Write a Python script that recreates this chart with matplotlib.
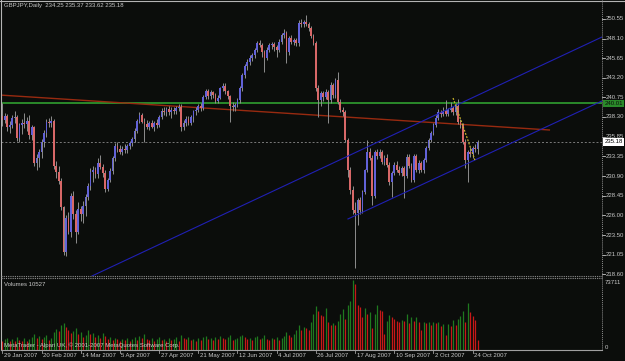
import matplotlib
matplotlib.use('Agg')
import matplotlib.pyplot as plt
from matplotlib.lines import Line2D
from matplotlib.transforms import blended_transform_factory

plt.rcParams['font.family'] = ['Liberation Sans', 'DejaVu Sans']

title_text = "GBPJPY,Daily  234.25 235.37 233.62 235.18"
volume_title = "Volumes 10527"
credit_text = "MetaTrader - Alpari UK, \u00a9 2001-2007 MetaQuotes Software Corp."

opens = [238.4, 237.9, 238.4, 237.0, 237.3, 238.2, 238.3, 235.7, 237.3, 237.6,
         237.4, 237.8, 236.0, 237.0, 232.5, 233.2, 233.9, 235.1, 236.3, 237.7,
         237.5, 237.8, 232.2, 231.4, 230.3, 227.0, 221.4, 225.6, 223.9, 228.4,
         226.2, 223.9, 226.8, 226.2, 227.2, 228.3, 229.7, 231.4, 231.7, 231.2,
         232.5, 232.0, 231.3, 229.3, 230.4, 231.5, 233.1, 234.7, 234.3, 233.9,
         234.3, 234.1, 234.7, 235.0, 235.5, 236.6, 237.8, 238.5, 237.7, 237.4,
         237.0, 237.5, 237.1, 237.6, 237.3, 238.3, 239.1, 238.9, 239.3, 238.9,
         239.2, 239.0, 239.4, 239.5, 237.0, 237.6, 238.1, 237.6, 238.3, 239.0,
         239.2, 239.7, 239.4, 240.8, 241.5, 240.9, 241.4, 241.0, 240.3, 240.7,
         241.9, 242.2, 241.5, 240.9, 239.7, 239.5, 239.8, 240.4, 241.9, 243.5,
         244.7, 245.2, 245.7, 246.0, 246.7, 247.5, 247.3, 246.4, 245.7, 246.7,
         247.3, 247.4, 247.0, 246.7, 247.7, 248.5, 248.8, 246.4, 248.2, 247.7,
         247.9, 247.5, 250.1, 249.9, 250.2, 249.9, 249.4, 248.4, 247.5, 241.9,
         240.4, 241.3, 240.8, 241.4, 240.4, 242.3, 241.0, 242.9, 240.2, 239.2,
         238.9, 235.4, 231.7, 229.2, 226.7, 226.3, 227.9, 226.7, 228.9, 231.7,
         233.9, 233.2, 228.4, 233.9, 233.4, 233.9, 232.7, 233.2, 232.3, 230.1,
         231.3, 232.3, 231.7, 231.3, 231.9, 230.9, 233.3, 232.2, 230.4, 233.4,
         231.7, 232.5, 231.7, 232.9, 234.4, 235.4, 236.3, 237.3, 238.2, 238.9,
         238.7, 239.0, 238.7, 239.2, 239.4, 238.9, 239.7, 237.7, 237.3, 235.2,
         232.9, 233.9, 233.6, 234.4, 234.25]
highs = [240.0, 238.8, 238.7, 237.8, 238.6, 239.0, 238.5, 237.6, 238.0, 238.8,
         238.3, 238.6, 237.3, 237.2, 233.6, 234.3, 235.6, 236.7, 238.0, 238.2,
         238.4, 238.0, 232.8, 232.1, 230.6, 227.2, 226.0, 226.4, 228.8, 229.0,
         226.6, 227.6, 227.2, 227.8, 228.7, 230.0, 231.9, 232.1, 232.0, 233.1,
         233.5, 232.4, 231.6, 230.6, 231.9, 233.4, 235.0, 235.1, 234.8, 234.6,
         234.9, 234.9, 235.3, 235.8, 236.9, 238.1, 238.9, 238.8, 238.2, 237.9,
         237.8, 237.9, 237.8, 238.1, 238.5, 239.4, 239.6, 239.6, 239.7, 239.5,
         239.6, 239.7, 239.9, 239.9, 237.9, 238.4, 238.4, 238.5, 239.2, 239.5,
         239.9, 240.0, 241.0, 241.8, 241.8, 241.7, 241.6, 241.3, 241.0, 242.1,
         242.6, 242.5, 241.7, 241.1, 240.2, 240.1, 240.7, 242.2, 243.8, 244.9,
         245.5, 246.0, 246.3, 246.9, 247.8, 247.9, 247.6, 246.7, 247.0, 247.6,
         247.7, 247.7, 247.3, 248.0, 248.8, 249.3, 249.0, 248.4, 248.5, 248.2,
         248.2, 250.4, 250.5, 250.4, 251.0, 250.2, 249.7, 248.7, 247.8, 242.3,
         241.5, 241.6, 241.8, 241.7, 242.7, 242.6, 243.2, 243.9, 240.6, 239.6,
         239.2, 235.7, 232.0, 229.6, 227.7, 228.2, 228.3, 229.2, 231.8, 235.4,
         234.4, 233.5, 234.2, 234.3, 234.3, 234.2, 233.5, 233.6, 232.7, 231.5,
         232.6, 232.8, 232.2, 232.2, 232.2, 233.6, 233.6, 232.5, 233.7, 233.7,
         232.9, 232.8, 233.2, 234.7, 235.7, 236.6, 237.6, 238.5, 239.3, 239.2,
         239.5, 240.4, 239.4, 240.2, 239.7, 240.0, 240.6, 238.0, 237.6, 235.6,
         234.2, 234.5, 234.7, 234.9, 235.37]
lows = [237.2, 237.5, 236.6, 236.3, 236.9, 237.5, 235.3, 235.2, 236.2, 236.9,
        236.6, 235.6, 235.4, 232.2, 231.6, 232.0, 233.2, 234.5, 235.8, 237.0,
        237.1, 231.8, 230.6, 229.9, 226.6, 221.0, 220.9, 223.6, 223.3, 225.5,
        222.5, 223.6, 225.3, 225.0, 225.9, 227.9, 229.1, 230.2, 230.7, 230.6,
        231.8, 230.8, 228.9, 229.0, 230.2, 231.2, 232.8, 233.9, 233.6, 233.5,
        233.8, 233.8, 234.3, 234.7, 235.2, 236.3, 237.6, 237.5, 235.2, 236.8,
        236.7, 236.9, 236.6, 236.9, 237.1, 238.0, 238.5, 238.4, 238.6, 238.2,
        238.7, 238.7, 239.0, 236.6, 236.7, 237.2, 237.3, 237.3, 237.7, 238.6,
        238.9, 239.1, 239.2, 240.5, 240.6, 240.6, 240.7, 240.1, 240.0, 240.5,
        241.6, 241.2, 240.6, 237.7, 239.1, 239.0, 239.5, 240.1, 241.6, 243.2,
        244.2, 244.8, 245.3, 245.7, 246.4, 247.0, 245.8, 243.9, 245.4, 246.4,
        246.8, 246.5, 245.8, 246.4, 247.4, 248.2, 245.0, 246.1, 247.4, 247.3,
        247.2, 247.2, 249.6, 249.6, 249.7, 249.1, 248.2, 247.3, 241.6, 238.3,
        239.7, 240.3, 240.5, 237.6, 240.1, 240.7, 240.7, 239.9, 238.9, 238.4,
        235.1, 230.8, 228.6, 226.1, 219.4, 224.8, 226.2, 226.3, 228.6, 231.4,
        232.9, 227.3, 228.1, 233.0, 233.1, 232.4, 232.3, 232.0, 229.8, 228.3,
        231.0, 231.4, 231.0, 230.9, 228.2, 230.6, 231.9, 230.2, 230.1, 231.4,
        231.3, 231.4, 231.3, 232.6, 234.1, 235.1, 236.0, 237.0, 237.9, 238.3,
        238.4, 238.4, 238.4, 238.9, 238.6, 238.6, 237.4, 236.9, 234.9, 231.9,
        230.2, 233.3, 233.2, 233.9, 233.62]
closes = [237.9, 238.4, 237.0, 237.3, 238.2, 238.3, 235.7, 237.3, 237.6, 237.4,
          237.8, 236.0, 237.0, 232.5, 233.2, 233.9, 235.1, 236.3, 237.7, 237.5,
          237.8, 232.2, 231.4, 230.3, 227.0, 221.4, 225.6, 223.9, 228.4, 226.2,
          223.9, 226.8, 226.2, 227.2, 228.3, 229.7, 231.4, 231.7, 231.2, 232.5,
          232.0, 231.3, 229.3, 230.4, 231.5, 233.1, 234.7, 234.3, 233.9, 234.3,
          234.1, 234.7, 235.0, 235.5, 236.6, 237.8, 238.5, 237.7, 237.4, 237.0,
          237.5, 237.1, 237.6, 237.3, 238.3, 239.1, 238.9, 239.3, 238.9, 239.2,
          239.0, 239.4, 239.5, 237.0, 237.6, 238.1, 237.6, 238.3, 239.0, 239.2,
          239.7, 239.4, 240.8, 241.5, 240.9, 241.4, 241.0, 240.3, 240.7, 241.9,
          242.2, 241.5, 240.9, 239.7, 239.5, 239.8, 240.4, 241.9, 243.5, 244.7,
          245.2, 245.7, 246.0, 246.7, 247.5, 247.3, 246.4, 245.7, 246.7, 247.3,
          247.4, 247.0, 246.7, 247.7, 248.5, 248.8, 246.4, 248.2, 247.7, 247.9,
          247.5, 250.1, 249.9, 250.2, 249.9, 249.4, 248.4, 247.5, 241.9, 240.4,
          241.3, 240.8, 241.4, 240.4, 242.3, 241.0, 242.9, 240.2, 239.2, 238.9,
          235.4, 231.7, 229.2, 226.7, 226.3, 227.9, 226.7, 228.9, 231.7, 233.9,
          233.2, 228.4, 233.9, 233.4, 233.9, 232.7, 233.2, 232.3, 230.1, 231.3,
          232.3, 231.7, 231.3, 231.9, 230.9, 233.3, 232.2, 230.4, 233.4, 231.7,
          232.5, 231.7, 232.9, 234.4, 235.4, 236.3, 237.3, 238.2, 238.9, 238.7,
          239.0, 238.7, 239.2, 239.4, 238.9, 239.7, 237.7, 237.3, 235.2, 232.9,
          233.9, 233.6, 234.4, 234.25, 235.18]
volumes = [9000, 12000, 13000, 10000, 12000, 9000, 14000, 11000, 10000, 13000,
           9000, 12000, 14000, 17000, 13000, 15000, 12000, 14000, 16000, 11000,
           13000, 19000, 22000, 20000, 26000, 28000, 24000, 21000, 18000, 20000,
           23000, 17000, 19000, 14000, 16000, 21000, 17000, 18000, 14000, 16000,
           13000, 18000, 15000, 12000, 14000, 11000, 13000, 12000, 10000, 12000,
           11000, 13000, 10000, 12000, 14000, 11000, 15000, 13000, 17000, 12000,
           11000, 13000, 10000, 12000, 14000, 11000, 12000, 9000, 13000, 11000,
           12000, 14000, 10000, 16000, 13000, 12000, 14000, 11000, 12000, 10000,
           13000, 11000, 14000, 15000, 12000, 13000, 11000, 14000, 12000, 15000,
           13000, 12000, 14000, 16000, 11000, 12000, 13000, 15000, 16000, 14000,
           12000, 13000, 11000, 14000, 15000, 12000, 13000, 16000, 12000, 11000,
           13000, 12000, 14000, 11000, 13000, 15000, 19000, 16000, 14000, 17000,
           21000, 26000, 21000, 24000, 23000, 21000, 30000, 38000, 46000, 41000,
           37000, 36000, 44000, 30000, 26000, 28000, 26000, 31000, 38000, 43000,
           33000, 47000, 52000, 73711, 70000, 47000, 45000, 35000, 44000, 38000,
           40000, 23000, 38000, 47000, 42000, 41000, 17000, 31000, 37000, 35000,
           33000, 31000, 30000, 32000, 31000, 38000, 28000, 35000, 31000, 35000,
           30000, 21000, 30000, 28000, 30000, 26000, 30000, 28000, 29000, 25000,
           27000, 16000, 27000, 25000, 32000, 26000, 33000, 36000, 41000, 30000,
           49000, 40000, 36000, 32000, 10527]

date_ticks = [0, 16, 32, 48, 64, 80, 96, 112, 128, 144, 160, 176, 192]
date_labels = ["29 Jan 2007", "20 Feb 2007", "14 Mar 2007", "5 Apr 2007", "27 Apr 2007",
               "21 May 2007", "12 Jun 2007", "4 Jul 2007", "26 Jul 2007", "17 Aug 2007",
               "10 Sep 2007", "2 Oct 2007", "24 Oct 2007"]
price_ticks = [250.55, 248.10, 245.65, 243.20, 240.75, 238.30, 235.85, 233.35,
               230.90, 228.45, 226.00, 223.50, 221.05, 218.60]
price_labels = ["250.55", "248.10", "245.65", "243.20", "240.75", "238.30", "235.85",
                "233.35", "230.90", "228.45", "226.00", "223.50", "221.05", "218.60"]
volume_max_label = "73711"

hline_price = 240.01
bid_price = 235.18
red_line_x = [-0.33, 223.6]
red_line_y = [241.02, 236.66]
blue_upper_x = [36.6, 244.8]
blue_upper_y = [218.41, 248.29]
blue_lower_x = [141.1, 244.8]
blue_lower_y = [225.54, 240.29]
yellow_x = [184.0, 192.9]
yellow_y = [240.66, 232.91]

# ---------------- figure ----------------
W, H = 625, 361
BG = '#0b0d0b'
GRID = '#8c8c8c'
TXT = '#c8c8c8'
FS = 4.3
fig = plt.figure(figsize=(W / 100, H / 100), dpi=100, facecolor=BG)

def fx(px):
    return px / W

def fy(py):
    return 1 - py / H

ax_l, ax_r = 1.5, 602.0
main_top, main_bot = 1.0, 276.0
vol_top, vol_bot = 278.0, 350.0

ax = fig.add_axes([fx(ax_l), fy(main_bot), fx(ax_r - ax_l), (main_bot - main_top) / H])
av = fig.add_axes([fx(ax_l), fy(vol_bot), fx(ax_r - ax_l), (vol_bot - vol_top) / H])
for a in (ax, av):
    a.set_facecolor(BG)
    a.set_xticks([])
    a.set_yticks([])
    for s in a.spines.values():
        s.set_visible(False)

n = len(closes)
xs = list(range(n))
xmin, xmax = -0.33, 244.8
ax.set_xlim(xmin, xmax)
av.set_xlim(xmin, xmax)
ax.set_ylim(218.41, 252.79)
av.set_ylim(0, 73711 * 72 / 70)

# candles
ax.vlines(xs, lows, highs, colors='#8e8e8e', lw=0.7, zorder=3)
bull = '#6262d8'
bear = '#d86868'
bottoms = [min(o, c) for o, c in zip(opens, closes)]
heights = [max(abs(c - o), 0.06) for o, c in zip(opens, closes)]
cols = [bull if c >= o else bear for o, c in zip(opens, closes)]
ax.bar(xs, heights, bottom=bottoms, width=0.72, color=cols, lw=0, zorder=4)

# objects
ax.axhline(hline_price, color='#2a8a2a', lw=1.4, zorder=2)
ax.axhline(bid_price, color='#7a7a7a', lw=0.7, ls=(0, (2, 2)), zorder=2)
ax.plot(red_line_x, red_line_y, color='#982a10', lw=1.0, zorder=2, solid_capstyle='butt')
ax.plot(blue_upper_x, blue_upper_y, color='#2020b4', lw=0.8, zorder=5)
ax.plot(blue_lower_x, blue_lower_y, color='#2020b4', lw=0.8, zorder=5)
ax.plot(yellow_x, yellow_y, color='#c8b428', lw=0.9, ls=(0, (1.5, 1.2)), zorder=6)

# volumes (green when higher than previous bar)
vcols = ['#1f7a1f' if i > 0 and volumes[i] > volumes[i - 1] else '#c81818' for i in range(n)]
av.vlines(xs, 0, volumes, colors=vcols, lw=0.9)

# frames
def hline_px(y, x0, x1, **kw):
    fig.add_artist(Line2D([fx(x0), fx(x1)], [fy(y), fy(y)], transform=fig.transFigure, **kw))

def vline_px(x, y0, y1, **kw):
    fig.add_artist(Line2D([fx(x), fx(x)], [fy(y0), fy(y1)], transform=fig.transFigure, **kw))

hline_px(0.8, 0, W, color='#b4b4b4', lw=0.8)
vline_px(1.0, 0, vol_bot, color='#b4b4b4', lw=0.8)
hline_px(main_bot, ax_l, ax_r, color=GRID, lw=0.8, ls=(0, (1, 1)))
hline_px(vol_top - 0.5, ax_l, ax_r, color=GRID, lw=0.8, ls=(0, (1, 1)))
hline_px(vol_bot, ax_l, ax_r, color='#a0a0a0', lw=0.8)
vline_px(ax_r, 0, vol_bot, color=GRID, lw=0.7, ls=(0, (1, 1)))

# price axis labels
tr = blended_transform_factory(fig.transFigure, ax.transData)
for p, lab in zip(price_ticks, price_labels):
    ax.add_line(Line2D([fx(ax_r), fx(ax_r + 3)], [p, p], transform=tr, color=TXT, lw=0.6, clip_on=False))
    ax.text(fx(ax_r + 4), p, lab, transform=tr, color=TXT, fontsize=FS, va='center', ha='left', clip_on=False)

ax.text(fx(ax_r + 2.5), hline_price, f"{hline_price:.2f}", transform=tr, color='#0b0d0b', fontsize=FS,
        va='center', ha='left', clip_on=False, zorder=10,
        bbox=dict(boxstyle='square,pad=0.2', fc='#2a8a2a', ec='none'))
ax.text(fx(ax_r + 2.5), bid_price, f"{bid_price:.2f}", transform=tr, color='#000000', fontsize=FS,
        va='center', ha='left', clip_on=False, zorder=10,
        bbox=dict(boxstyle='square,pad=0.2', fc='#ffffff', ec='none'))

# volume axis labels
trv = blended_transform_factory(fig.transFigure, av.transData)
av.text(fx(ax_r + 3), 73711, volume_max_label, transform=trv, color=TXT, fontsize=FS, va='top', ha='left', clip_on=False)
av.text(fx(ax_r + 3), 0, "0", transform=trv, color=TXT, fontsize=FS, va='bottom', ha='left', clip_on=False)

# date axis
trd = blended_transform_factory(av.transData, fig.transFigure)
for t, lab in zip(date_ticks, date_labels):
    av.add_line(Line2D([t, t], [fy(vol_bot), fy(vol_bot + 3)], transform=trd, color='#a0a0a0', lw=0.6, clip_on=False))
    av.text(t + 0.6, fy(355.5), lab, transform=trd, color=TXT, fontsize=FS, va='center', ha='left', clip_on=False)

# titles
fig.text(fx(4), fy(6), title_text, color=TXT, fontsize=FS, va='center', ha='left')
fig.text(fx(4), fy(284), volume_title, color=TXT, fontsize=FS, va='center', ha='left')
fig.text(fx(4), fy(345), credit_text, color=TXT, fontsize=FS, va='center', ha='left')

fig.savefig('out.png', dpi=100, facecolor=BG)
